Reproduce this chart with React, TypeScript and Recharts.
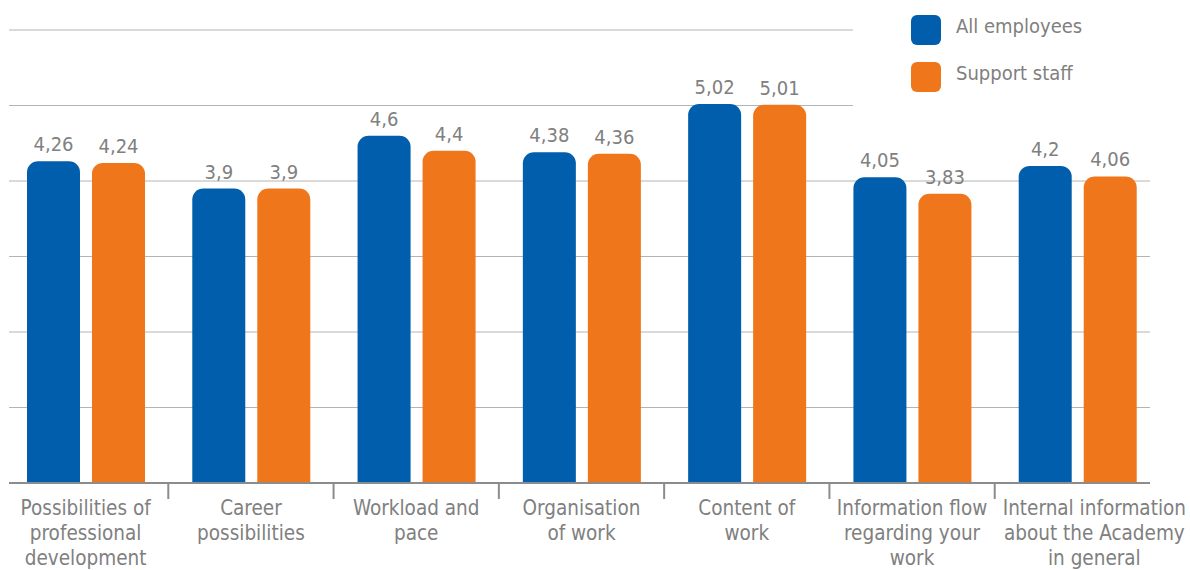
import { BarChart, Bar, XAxis, YAxis, CartesianGrid, LabelList } from 'recharts';

const categories = [
  'Possibilities of\nprofessional\ndevelopment',
  'Career\npossibilities',
  'Workload and\npace',
  'Organisation\nof work',
  'Content of\nwork',
  'Information flow\nregarding your\nwork',
  'Internal information\nabout the Academy\nin general',
];
const allEmployees = [4.26, 3.9, 4.6, 4.38, 5.02, 4.05, 4.2];
const supportStaff = [4.24, 3.9, 4.4, 4.36, 5.01, 3.83, 4.06];
const yTicks = [0, 1, 2, 3, 4, 5, 6];
const seriesNames = ['All employees', 'Support staff'];

const BLUE = '#005EAD';
const ORANGE = '#EF761A';
const TEXT = '#808080';
const FONT = '"DejaVu Sans Condensed", "DejaVu Sans", sans-serif';
const FS = 20;
const PAD_L = -6;
const PAD_R = -10;

const data = categories.map((c, i) => ({
  name: c,
  all: allEmployees[i],
  support: supportStaff[i],
}));

const fmt = (v: unknown) => String(v).replace('.', ',');

function CategoryTick(props: any) {
  const { x, y, payload, index, width, visibleTicksCount } = props;
  // band of the category scale (axis width plus the negative padding)
  const band = (width - PAD_L - PAD_R) / visibleTicksCount;
  const lines = String(payload.value).split('\n');
  // last label is pushed right a bit so it clears the previous one
  const tx = index === visibleTicksCount - 1 ? x + 17 : x;
  return (
    <g>
      {index > 0 && (
        <line x1={x - band / 2} x2={x - band / 2} y1={y - 8} y2={y + 8} stroke="#8c8c8c" strokeWidth={2} />
      )}
      <text x={tx} y={y} textAnchor="middle" fill={TEXT} fontSize={20.5} fontFamily={FONT}>
        {lines.map((l, k) => (
          <tspan key={k} x={tx} dy={k === 0 ? 24 : 25}>{l}</tspan>
        ))}
      </text>
    </g>
  );
}

function LegendBox() {
  const colors = [BLUE, ORANGE];
  return (
    <div style={{ position: 'absolute', left: 853, top: 0, background: '#fff', width: 337, height: 118 }}>
      {seriesNames.map((label, i) => (
        <div key={label} style={{ position: 'absolute', left: 58, top: 15 + i * 47, display: 'flex', alignItems: 'center' }}>
          <div style={{ width: 30, height: 30, borderRadius: 6, background: colors[i] }} />
          <span style={{ marginLeft: 15, marginTop: -8, fontFamily: FONT, fontSize: FS, color: TEXT, lineHeight: '30px' }}>{label}</span>
        </div>
      ))}
    </div>
  );
}

export default function App() {
  return (
    <div style={{ position: 'absolute', left: 0, top: 0, width: 1190, height: 570, background: '#fff' }}>
      <BarChart
        width={1190}
        height={570}
        data={data}
        margin={{ top: 30, right: 40, left: 9, bottom: 0 }}
        barSize={53}
        barGap={12}
      >
        <CartesianGrid vertical={false} stroke="#b4b4b4" strokeWidth={1} />
        <YAxis hide domain={[0, 6]} ticks={yTicks} type="number" />
        <XAxis
          dataKey="name"
          interval={0}
          tickLine={false}
          padding={{ left: PAD_L, right: PAD_R }}
          axisLine={{ stroke: '#8c8c8c', strokeWidth: 2 }}
          tick={<CategoryTick />}
          height={87}
        />
        <Bar dataKey="all" name={seriesNames[0]} fill={BLUE} radius={[11, 11, 0, 0]} isAnimationActive={false}>
          <LabelList dataKey="all" position="top" offset={10} formatter={fmt} fill={TEXT} fontSize={FS} fontFamily={FONT} />
        </Bar>
        <Bar dataKey="support" name={seriesNames[1]} fill={ORANGE} radius={[11, 11, 0, 0]} isAnimationActive={false}>
          <LabelList dataKey="support" position="top" offset={10} formatter={fmt} fill={TEXT} fontSize={FS} fontFamily={FONT} />
        </Bar>
      </BarChart>
      <LegendBox />
    </div>
  );
}
